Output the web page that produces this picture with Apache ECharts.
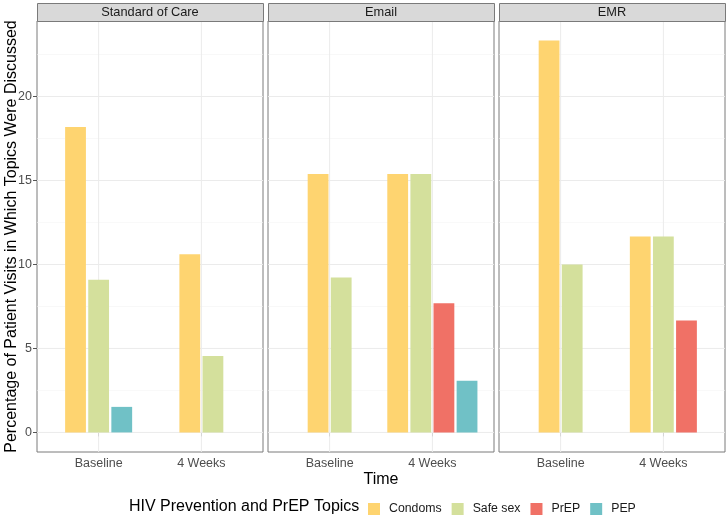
<!DOCTYPE html>
<html>
<head>
<meta charset="utf-8">
<script src="https://cdn.jsdelivr.net/npm/echarts@6/dist/echarts.min.js"></script>
<style>
html,body{margin:0;padding:0;background:#fff;}
#chart{width:728px;height:516px;}
</style>
</head>
<body>
<div id="chart"></div>
<script>
// ---- data ----
const panels = ['Standard of Care', 'Email', 'EMR'];
const times = ['Baseline', '4 Weeks'];
const topics = ['Condoms', 'Safe sex', 'PrEP', 'PEP'];
const topicColors = ['#FED470', '#D4E09C', '#F07166', '#70C1C6'];
// per panel: [Baseline, 4 Weeks]; null = topic not recorded
const condoms = [[18.18, 10.61], [15.38, 15.38], [23.33, 11.67]];
const safeSex = [[9.09, 4.55], [9.23, 15.38], [10.00, 11.67]];
const prep    = [[null, null], [null, 7.69], [null, 6.67]];
const pep     = [[1.52, null], [null, 3.08], [null, null]];
const yTicks = [0, 5, 10, 15, 20];
const yMinorTicks = [2.5, 7.5, 12.5, 17.5, 22.5];

const topicValues = [condoms, safeSex, prep, pep];
const FONT = 'Liberation Sans, Arial, Helvetica, sans-serif';

// y scale with ggplot-like 5% expansion
let vmax = 0;
topicValues.forEach(t => t.forEach(p => p.forEach(v => { if (v != null && v > vmax) vmax = v; })));
const yMin = -0.05 * vmax, yMax = vmax * 1.05;

// dodge (position_dodge2, preserve single)
const slotW = 0.9 / topics.length;
const barW = slotW * 0.9;

const gridLeft = [37, 268, 499];
const gridW = 226, gridTop = 21, gridH = 431;
const BORDER = '#7a7a7a';

const grids = [], xAxes = [], yAxes = [], series = [], graphics = [];

panels.forEach((panel, pi) => {
  grids.push({left: gridLeft[pi], top: gridTop, width: gridW, height: gridH,
    show: true, backgroundColor: '#fff', borderColor: BORDER, borderWidth: 1});
  xAxes.push({
    type: 'value', gridIndex: pi, min: 0.4, max: 2.6,
    axisLine: {show: false}, splitLine: {show: false},
    axisTick: {show: true, customValues: [1, 2], length: 4, lineStyle: {color: '#555', width: 1}},
    axisLabel: {show: true, customValues: [1, 2], margin: 5, fontSize: 12.5, color: '#4D4D4D', fontFamily: FONT,
      formatter: v => times[Math.round(v) - 1]},
    name: pi === 1 ? 'Time' : '', nameLocation: 'middle', nameGap: 20, nameMoveOverlap: false,
    nameTextStyle: {fontSize: 16, color: '#000', fontFamily: FONT}
  });
  yAxes.push({
    type: 'value', gridIndex: pi, min: yMin, max: yMax,
    axisLine: {show: false}, splitLine: {show: false},
    axisTick: {show: pi === 0, customValues: yTicks, length: 4, lineStyle: {color: '#555', width: 1}},
    axisLabel: {show: pi === 0, customValues: yTicks, margin: 5, fontSize: 12.5, color: '#4D4D4D', fontFamily: FONT},
    name: pi === 0 ? 'Percentage of Patient Visits in Which Topics Were Discussed' : '',
    nameLocation: 'middle', nameGap: 17, nameMoveOverlap: false,
    nameTextStyle: {fontSize: 16, color: '#000', fontFamily: FONT}
  });

  // gridlines
  const gl = [];
  yMinorTicks.forEach(v => gl.push([0, v, 0]));
  yTicks.forEach(v => gl.push([0, v, 1]));
  times.forEach((t, ti) => gl.push([1, ti + 1, 1]));
  series.push({
    type: 'custom', name: 'gridlines', xAxisIndex: pi, yAxisIndex: pi, silent: true, z: 1,
    data: gl,
    renderItem: (params, api) => {
      const cs = params.coordSys;
      const kind = api.value(0), v = api.value(1), major = api.value(2);
      let shape;
      if (kind === 0) {
        const y = api.coord([1, v])[1];
        shape = {x1: cs.x, y1: y, x2: cs.x + cs.width, y2: y};
      } else {
        const x = api.coord([v, 0])[0];
        shape = {x1: x, y1: cs.y, x2: x, y2: cs.y + cs.height};
      }
      return {type: 'line', shape: shape,
        style: {stroke: major ? '#EBEBEB' : '#F3F3F3', lineWidth: major ? 1 : 0.6}};
    }
  });

  // presence per time
  const bars = topics.map(() => []);
  times.forEach((t, ti) => {
    const present = [];
    topics.forEach((tp, k) => { if (topicValues[k][pi][ti] != null) present.push(k); });
    const n = present.length;
    present.forEach((k, s) => {
      const x = (ti + 1) + (s - (n - 1) / 2) * slotW;
      bars[k].push([x, topicValues[k][pi][ti]]);
    });
  });
  topics.forEach((tp, k) => {
    series.push({
      type: 'custom', name: tp, xAxisIndex: pi, yAxisIndex: pi, z: 3,
      itemStyle: {color: topicColors[k]},
      data: bars[k],
      renderItem: (params, api) => {
        const x = api.value(0), y = api.value(1);
        const p0 = api.coord([x - barW / 2, 0]);
        const p1 = api.coord([x + barW / 2, y]);
        return {type: 'rect',
          shape: {x: p0[0], y: p1[1], width: p1[0] - p0[0], height: p0[1] - p1[1]},
          style: {fill: topicColors[k]}};
      }
    });
  });

  // facet strip
  graphics.push({type: 'rect', left: gridLeft[pi], top: 3,
    shape: {width: gridW, height: 18},
    style: {fill: '#D9D9D9', stroke: BORDER, lineWidth: 1}, z: 10});
  graphics.push({type: 'text', x: gridLeft[pi] + gridW / 2, y: 12.5,
    style: {text: panel, fontSize: 12.8, fill: '#1A1A1A', fontFamily: FONT, align: 'center', verticalAlign: 'middle'}, z: 11});
});

const chart = echarts.init(document.getElementById('chart'), null, {renderer: 'canvas'});
chart.setOption({
  animation: false,
  backgroundColor: '#fff',
  grid: grids, xAxis: xAxes, yAxis: yAxes, series: series,
  title: {text: 'HIV Prevention and PrEP Topics', left: 124, top: 494,
    textStyle: {fontSize: 16, fontWeight: 'normal', color: '#000', fontFamily: FONT}},
  legend: {data: topics, left: 363, top: 498, icon: 'rect', itemWidth: 12, itemHeight: 12, itemGap: 10,
    textStyle: {fontSize: 12.3, color: '#1A1A1A', fontFamily: FONT, padding: [0, 0, 0, 4]},
    selectedMode: false},
  graphic: graphics
});
</script>
</body>
</html>
